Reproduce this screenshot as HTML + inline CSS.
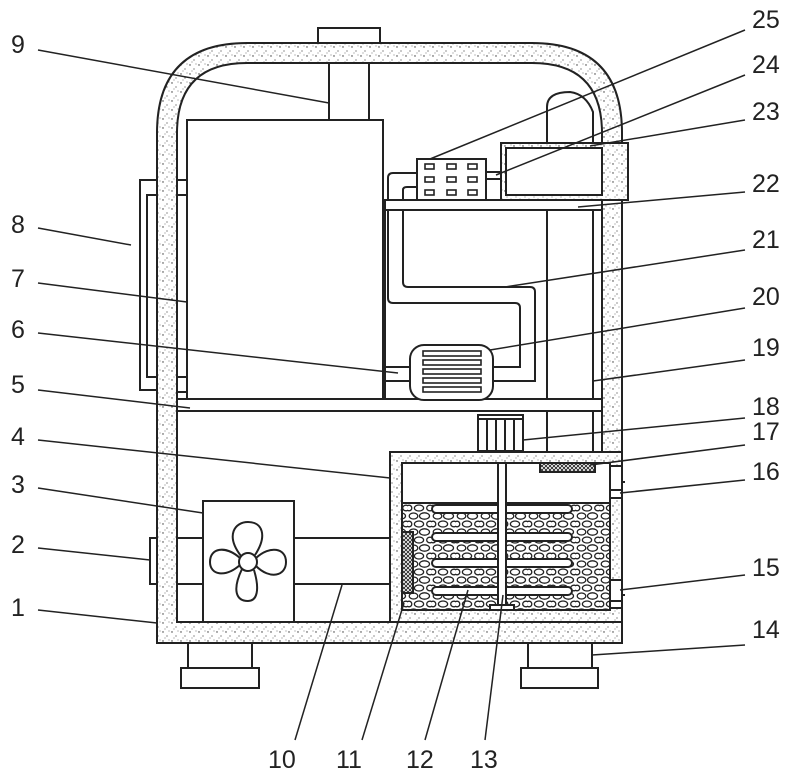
<!DOCTYPE html>
<html><head><meta charset="utf-8"><style>
html,body{margin:0;padding:0;background:#fff}
svg{display:block}
text{font-family:"Liberation Sans",sans-serif;font-size:25px;fill:#222}
</style></head><body>
<svg width="801" height="778" viewBox="0 0 801 778" xmlns="http://www.w3.org/2000/svg">
<defs>
<pattern id="dots" width="9" height="9" patternUnits="userSpaceOnUse">
<rect width="9" height="9" fill="#fff"/>
<circle cx="1" cy="2" r="0.7" fill="#333"/><circle cx="5" cy="6" r="0.6" fill="#444"/><circle cx="7" cy="1" r="0.5" fill="#555"/><circle cx="3" cy="8" r="0.5" fill="#555"/>
</pattern>
<pattern id="rocks" width="24" height="16" patternUnits="userSpaceOnUse">
<rect width="24" height="16" fill="#fff"/>
<g stroke="#222" stroke-width="1.3" fill="#fff">
<ellipse cx="5.5" cy="4" rx="4.3" ry="3"/><ellipse cx="16.5" cy="4" rx="5" ry="3.2"/>
<ellipse cx="11" cy="12" rx="4.6" ry="3"/><ellipse cx="22" cy="12" rx="3.3" ry="2.8"/><ellipse cx="1" cy="12" rx="2.8" ry="2.8"/>
</g>
</pattern>
<pattern id="mesh" width="4" height="4" patternUnits="userSpaceOnUse">
<rect width="4" height="4" fill="#fff"/><path d="M0 0L4 4M4 0L0 4" stroke="#222" stroke-width="0.9"/>
</pattern>
</defs>
<g stroke="#222" stroke-width="2" fill="none">
<path fill="url(#dots)" fill-rule="evenodd" d="M157 643 V133 Q157 43 247 43 H532 Q622 43 622 133 V643 Z M177 622 H602 V133 Q602 63 532 63 H247 Q177 63 177 133 Z"/>
<rect x="318" y="28" width="62" height="15" fill="#fff"/>
<path d="M157 180 H140 V390 H157"/><path d="M157 195 H147 V377 H157"/>
<rect x="177" y="180" width="10" height="15"/><rect x="177" y="377" width="10" height="15"/>
<rect x="329" y="63" width="40" height="57"/>
<rect x="187" y="120" width="196" height="279"/>
<rect x="177" y="399" width="425" height="12" fill="#fff"/>
<path d="M547 399 V107 Q547 92 570 92 Q586 94 593 112 V399"/>
<path d="M547 411 V452 M593 411 V452"/>
<rect x="385" y="200" width="217" height="10" fill="#fff"/>
<path d="M385 210 V399"/>
<rect x="501" y="143" width="127" height="57" fill="url(#dots)"/>
<rect x="506" y="148" width="96" height="47" fill="#fff"/>
<rect x="417" y="159" width="69" height="41" fill="#fff"/>
<g stroke-width="1.6">
<rect x="425" y="164" width="9" height="5"/><rect x="447" y="164" width="9" height="5"/><rect x="468" y="164" width="9" height="5"/>
<rect x="425" y="177" width="9" height="5"/><rect x="447" y="177" width="9" height="5"/><rect x="468" y="177" width="9" height="5"/>
<rect x="425" y="190" width="9" height="5"/><rect x="447" y="190" width="9" height="5"/><rect x="468" y="190" width="9" height="5"/>
</g>
<rect x="486" y="172" width="15" height="7"/>
<path d="M388 200 V178 Q388 173 393 173 H417"/><path d="M403 200 V190 Q403 187 407 187 H417"/>
<path d="M388 210 V298 Q388 303 393 303 H515 Q520 303 520 308 V367 H493"/>
<path d="M403 210 V282 Q403 287 408 287 H530 Q535 287 535 292 V381 H493"/>
<rect x="410" y="345" width="83" height="55" rx="14" fill="#fff"/>
<g stroke-width="1.6">
<rect x="423" y="351" width="58" height="5"/><rect x="423" y="360" width="58" height="5"/><rect x="423" y="369" width="58" height="5"/><rect x="423" y="378" width="58" height="5"/><rect x="423" y="387" width="58" height="5"/>
</g>
<path d="M383 367 H410 M383 381 H410"/>
<rect x="478" y="415" width="45" height="36" fill="#fff"/>
<path d="M487 419 V451 M496 419 V451 M505 419 V451 M514 419 V451 M478 419 H523"/>
<rect x="390" y="452" width="232" height="170" fill="url(#dots)"/>
<rect x="402" y="463" width="208" height="147" fill="#fff"/>
<rect x="402" y="503" width="208" height="107" fill="url(#rocks)"/>
<rect x="540" y="463" width="55" height="9" fill="url(#mesh)"/>
<rect x="402" y="532" width="11" height="61" fill="url(#mesh)"/>
<rect x="432" y="505" width="140" height="8" rx="4" fill="#fff"/>
<rect x="432" y="533" width="140" height="8" rx="4" fill="#fff"/>
<rect x="432" y="559" width="140" height="8" rx="4" fill="#fff"/>
<rect x="432" y="587" width="140" height="8" rx="4" fill="#fff"/>
<rect x="498" y="463" width="8" height="147" fill="#fff"/>
<rect x="490" y="605" width="24" height="5" fill="#fff"/>
<rect x="610" y="466" width="12" height="30" fill="#fff"/><rect x="610" y="490" width="12" height="8" fill="#fff"/>
<rect x="610" y="580" width="12" height="28" fill="#fff"/><rect x="610" y="601" width="12" height="7" fill="#fff"/>
<path d="M622 482 h3 M622 595 h3"/>
<rect x="203" y="501" width="91" height="121" fill="#fff"/>
<path d="M177 538 H203 M177 584 H203 M294 538 H390 M294 584 H390"/>
<circle cx="248" cy="562" r="9"/>
<path d="M241 556 C225 535 235 522 248 522 C262 522 268 535 255 555"/>
<path d="M254 570 C260 590 257 601 248 601 C236 601 232 590 242 569"/>
<path d="M240 565 C225 578 210 575 210 562 C210 548 225 545 240 558"/>
<path d="M256 558 C270 545 286 548 286 562 C286 576 270 580 256 566"/>
<rect x="150" y="538" width="7" height="46" fill="#fff"/>
<rect x="188" y="643" width="64" height="25"/><rect x="181" y="668" width="78" height="20"/>
<rect x="528" y="643" width="64" height="25"/><rect x="521" y="668" width="77" height="20"/>
</g>
<g stroke="#222" stroke-width="1.5">
<line x1="38" y1="50" x2="329" y2="103"/><line x1="38" y1="228" x2="131" y2="245"/>
<line x1="38" y1="283" x2="187" y2="302"/><line x1="38" y1="333" x2="398" y2="373"/>
<line x1="38" y1="390" x2="190" y2="408"/><line x1="38" y1="440" x2="390" y2="478"/>
<line x1="38" y1="488" x2="203" y2="513"/><line x1="38" y1="548" x2="150" y2="560"/>
<line x1="38" y1="610" x2="157" y2="623"/>
<line x1="745" y1="30" x2="430" y2="159"/><line x1="745" y1="75" x2="496" y2="175"/>
<line x1="745" y1="120" x2="590" y2="146"/><line x1="745" y1="192" x2="578" y2="207"/>
<line x1="745" y1="250" x2="505" y2="287"/><line x1="745" y1="308" x2="490" y2="350"/>
<line x1="745" y1="360" x2="593" y2="381"/><line x1="745" y1="418" x2="523" y2="440"/>
<line x1="745" y1="445" x2="590" y2="465"/><line x1="745" y1="480" x2="620" y2="493"/>
<line x1="745" y1="575" x2="620" y2="590"/><line x1="745" y1="645" x2="592" y2="655"/>
<line x1="295" y1="740" x2="342" y2="585"/><line x1="362" y1="740" x2="404" y2="603"/>
<line x1="425" y1="740" x2="468" y2="590"/><line x1="485" y1="740" x2="503" y2="595"/>
</g>
<g>
<text x="11" y="53">9</text><text x="11" y="233">8</text><text x="11" y="287">7</text>
<text x="11" y="338">6</text><text x="11" y="393">5</text><text x="11" y="445">4</text>
<text x="11" y="493">3</text><text x="11" y="553">2</text><text x="11" y="616">1</text>
<text x="752" y="28">25</text><text x="752" y="73">24</text><text x="752" y="120">23</text>
<text x="752" y="192">22</text><text x="752" y="248">21</text><text x="752" y="305">20</text>
<text x="752" y="356">19</text><text x="752" y="415">18</text><text x="752" y="440">17</text>
<text x="752" y="480">16</text><text x="752" y="576">15</text><text x="752" y="638">14</text>
<text x="268" y="768">10</text><text x="336" y="768">11</text><text x="406" y="768">12</text><text x="470" y="768">13</text>
</g>
</svg>
</body></html>
